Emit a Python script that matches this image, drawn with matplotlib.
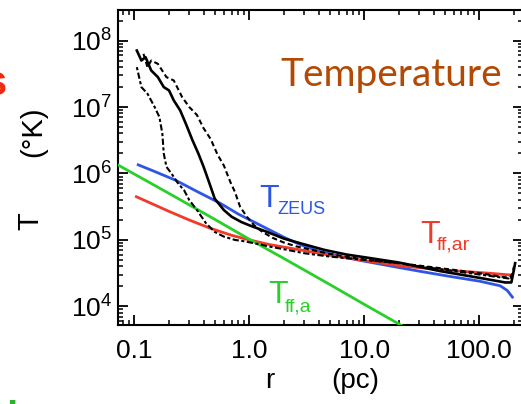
import numpy as np
import matplotlib
matplotlib.use("Agg")
import matplotlib.pyplot as plt
from matplotlib.ticker import LogLocator, FixedLocator, FixedFormatter, NullFormatter

plt.rcParams['font.family'] = ['Liberation Sans', 'DejaVu Sans']
plt.rcParams['mathtext.fontset'] = 'custom'
plt.rcParams['mathtext.rm'] = 'Liberation Sans'
plt.rcParams['mathtext.it'] = 'Liberation Sans'

# ---------------- data ----------------
# T_ZEUS (blue)
r_zeus = [0.108, 0.15, 0.227, 0.35, 0.56, 0.8, 1.25, 2.0, 2.77, 4.0, 6.2, 10, 17.9, 30, 56, 100, 152, 175, 194]
logT_zeus = [6.13, 6.03, 5.90, 5.73, 5.55, 5.39, 5.22, 5.04, 4.93, 4.83, 4.75, 4.68, 4.60, 4.53, 4.45, 4.38, 4.31, 4.24, 4.14]

# T_ff,ar (red)
r_ffar = [0.104, 0.14, 0.2, 0.3, 0.45, 0.7, 1.0, 1.5, 2.77, 5, 10, 20.6, 56, 120, 194]
logT_ffar = [5.65, 5.55, 5.43, 5.30, 5.18, 5.07, 5.00, 4.93, 4.85, 4.77, 4.69, 4.61, 4.54, 4.50, 4.47]

# T_ff,a (green)
r_ffa = [0.07, 0.2, 0.5, 1.0, 2.0, 5.0, 10.0, 25.0]
logT_ffa = [6.14, 5.70, 5.31, 5.01, 4.72, 4.33, 4.03, 3.64]

# simulation profiles (black)
r_sim1 = [0.105, 0.115, 0.125, 0.14, 0.16, 0.18, 0.2, 0.22, 0.25, 0.28, 0.32, 0.36, 0.4,
          0.45, 0.5, 0.6, 0.7, 0.85, 1.0, 1.43, 2.0, 2.77, 4.5, 7, 10, 20, 46, 100, 168, 190, 200, 205]
logT_sim1 = [7.85, 7.70, 7.75, 7.55, 7.45, 7.30, 7.25, 7.10, 6.95, 6.75, 6.50, 6.30, 6.10,
             5.85, 5.62, 5.45, 5.35, 5.27, 5.22, 5.12, 5.02, 4.95, 4.85, 4.78, 4.74, 4.66, 4.53, 4.43, 4.36, 4.36, 4.55, 4.65]

r_sim2 = [0.12, 0.13, 0.14, 0.16, 0.19, 0.22, 0.26, 0.3, 0.35, 0.4, 0.46, 0.53, 0.6, 0.68, 0.75, 0.83,
          0.95, 1.1, 1.3, 1.6, 2.0, 2.6, 3.5, 5, 8, 12, 20, 35, 60, 100, 150, 185, 195, 200]
logT_sim2 = [7.80, 7.60, 7.70, 7.65, 7.45, 7.40, 7.15, 7.00, 6.88, 6.68, 6.52, 6.28, 6.12, 5.88, 5.72, 5.50,
             5.35, 5.22, 5.12, 5.03, 4.96, 4.90, 4.85, 4.79, 4.73, 4.69, 4.65, 4.60, 4.55, 4.50, 4.45, 4.43, 4.50, 4.60]

r_sim3 = [0.105, 0.115, 0.13, 0.15, 0.165, 0.175, 0.18, 0.19, 0.21, 0.24, 0.27, 0.3, 0.35, 0.42,
          0.5, 0.6, 0.75, 0.9, 1.1, 1.5, 2.0, 3, 5, 10, 20, 50, 100, 180, 200]
logT_sim3 = [7.60, 7.30, 7.20, 7.00, 6.85, 6.60, 6.30, 6.10, 6.00, 5.85, 5.75, 5.60, 5.45, 5.25,
             5.12, 5.05, 5.00, 4.98, 4.95, 4.90, 4.86, 4.80, 4.75, 4.70, 4.65, 4.55, 4.48, 4.42, 4.50]

xtick_vals = [0.1, 1.0, 10.0, 100.0]
xtick_labels = ["0.1", "1.0", "10.0", "100.0"]
ytick_exps = [4, 5, 6, 7, 8]

# ---------------- figure ----------------
W, H = 521, 404
fig = plt.figure(figsize=(W / 100, H / 100), dpi=100)
ax = fig.add_axes([118 / W, 1 - 325 / H, 405 / W, 315 / H])
ax.set_xscale('log')
ax.set_yscale('log')
ax.set_xlim(0.072, 240)
ax.set_ylim(10 ** 3.72, 10 ** 8.46)

blue = '#2F55E6'
red = '#F03A2A'
green = '#2ACF2A'

ax.plot(r_zeus, 10 ** np.array(logT_zeus), color=blue, lw=2.0, zorder=3)
ax.plot(r_ffar, 10 ** np.array(logT_ffar), color=red, lw=2.0, zorder=3)
ax.plot(r_ffa, 10 ** np.array(logT_ffa), color=green, lw=2.0, zorder=3)
ax.plot(r_sim3, 10 ** np.array(logT_sim3), color='black', lw=1.5, ls=(0, (1.5, 1.2, 3, 1.2)), zorder=4)
ax.plot(r_sim2, 10 ** np.array(logT_sim2), color='black', lw=1.5, ls=(0, (2.5, 1.5)), zorder=4)
ax.plot(r_sim1, 10 ** np.array(logT_sim1), color='black', lw=1.9, zorder=5)

# ticks
ax.xaxis.set_major_locator(FixedLocator(xtick_vals))
ax.xaxis.set_major_formatter(FixedFormatter(xtick_labels))
ax.xaxis.set_minor_locator(LogLocator(base=10, subs=np.arange(2, 10), numticks=20))
ax.xaxis.set_minor_formatter(NullFormatter())
ax.yaxis.set_major_locator(FixedLocator([10.0 ** e for e in ytick_exps]))
ax.yaxis.set_major_formatter(FixedFormatter([r"$\mathregular{10^{%d}}$" % e for e in ytick_exps]))
ax.yaxis.set_minor_locator(LogLocator(base=10, subs=np.arange(2, 10), numticks=20))
ax.yaxis.set_minor_formatter(NullFormatter())

ax.tick_params(which='both', direction='in', top=True, right=True, color='black')
ax.tick_params(which='major', length=7, width=1.3)
ax.tick_params(which='minor', length=3.5, width=1.1)
ax.tick_params(axis='x', which='major', pad=10, labelsize=19)
ax.tick_params(axis='y', which='major', pad=4, labelsize=19)
for s in ax.spines.values():
    s.set_linewidth(1.5)

def px(x, y):
    return x / W, 1 - y / H

# axis labels
fig.text(*px(30, 221), "T", rotation=90, fontsize=21, ha='center', va='center')
fig.text(*px(33, 132), "(°K)", rotation=90, fontsize=21, ha='center', va='center')
fig.text(*px(270, 381), "r", fontsize=20, ha='center', va='center')
fig.text(*px(355, 381), "(pc)", fontsize=20, ha='center', va='center')

# title-like word
fig.text(*px(391, 86), "Temperature", family=['Lato', 'DejaVu Sans'], fontsize=28,
         color='#B24A06', ha='center', va='baseline')

# series labels
fig.text(*px(259, 207), "T", fontsize=23, color=blue, ha='left', va='baseline')
fig.text(*px(277, 214), "ZEUS", fontsize=13, color=blue, ha='left', va='baseline')
fig.text(*px(420, 243), "T", fontsize=23, color=red, ha='left', va='baseline')
fig.text(*px(437, 250), "ff,ar", fontsize=14, color=red, ha='left', va='baseline')
fig.text(*px(268, 303), "T", fontsize=23, color=green, ha='left', va='baseline')
fig.text(*px(285, 311), "ff,a", fontsize=14, color=green, ha='left', va='baseline')

# cropped fragments of neighbouring slide text
fig.text(*px(7, 95), "s", fontsize=30, color='#F02A10', ha='right', va='baseline', weight='bold')
fig.text(*px(19, 420), "A:", fontsize=28, color='#30B030', ha='right', va='baseline', weight='bold')

fig.savefig("out.png", dpi=100)
